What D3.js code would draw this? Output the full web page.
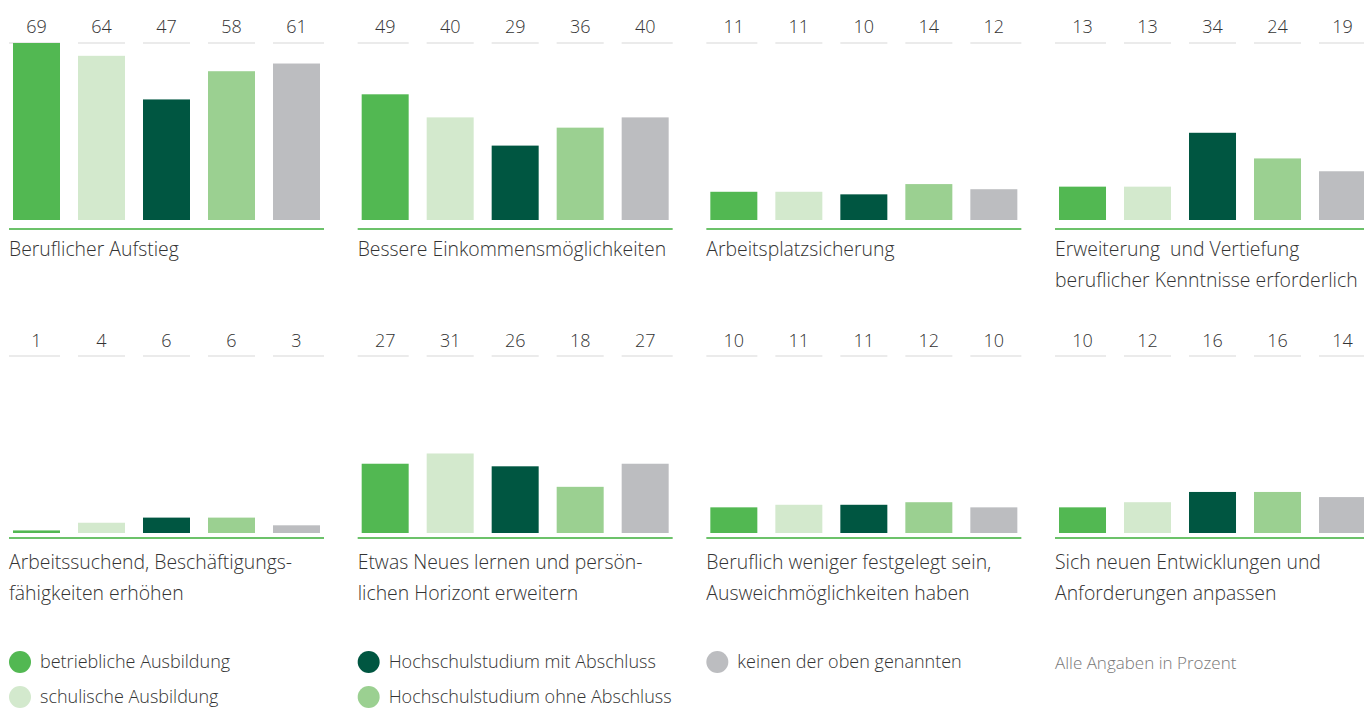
<!DOCTYPE html>
<html><head><meta charset="utf-8">
<script src="https://cdn.jsdelivr.net/npm/d3@7/dist/d3.min.js"></script>
<style>
body{margin:0;background:#fff;}
svg text{font-family:"Open Sans",sans-serif;font-weight:300;fill:#333;}
</style></head>
<body>
<svg id="c" width="1364" height="708"></svg>
<script>
const groups = ["betriebliche Ausbildung","schulische Ausbildung","Hochschulstudium mit Abschluss","Hochschulstudium ohne Abschluss","keinen der oben genannten"];
const colors = ["#52b852","#d3e9cd","#005641","#9bd091","#bcbdc0"];
const titles = [
  ["Beruflicher Aufstieg"],
  ["Bessere Einkommensmöglichkeiten"],
  ["Arbeitsplatzsicherung"],
  ["Erweiterung  und Vertiefung","beruflicher Kenntnisse erforderlich"],
  ["Arbeitssuchend, Beschäftigungs-","fähigkeiten erhöhen"],
  ["Etwas Neues lernen und persön-","lichen Horizont erweitern"],
  ["Beruflich weniger festgelegt sein,","Ausweichmöglichkeiten haben"],
  ["Sich neuen Entwicklungen und","Anforderungen anpassen"]
];
const v1 = [69,64,47,58,61];
const v2 = [49,40,29,36,40];
const v3 = [11,11,10,14,12];
const v4 = [13,13,34,24,19];
const v5 = [1,4,6,6,3];
const v6 = [27,31,26,18,27];
const v7 = [10,11,11,12,10];
const v8 = [10,12,16,16,14];
const values = [v1,v2,v3,v4,v5,v6,v7,v8];
const note = "Alle Angaben in Prozent";

const svg = d3.select("#c");
const panelW = 315, colStep = 348.67, left0 = 9;
const rows = [
  {valBase:33, line:43, base:220, axis:229, label:256},
  {valBase:347, line:356, base:533, axis:538, label:569}
];
const x = d3.scaleBand().domain(d3.range(5)).range([4,311]).paddingInner(18/65).paddingOuter(0);
const pxPerUnit = 177/69;

values.forEach((vals,i)=>{
  const r = rows[Math.floor(i/4)];
  const c = i%4;
  const g = svg.append("g").attr("transform",`translate(${left0+c*colStep},0)`);
  const y = d3.scaleLinear().domain([0,100]).range([r.base, r.base-100*pxPerUnit]);
  g.selectAll("line.v").data(vals).join("line")
    .attr("x1",(d,j)=> j===0?0:x(j))
    .attr("x2",(d,j)=> j===4?panelW:x(j)+x.bandwidth())
    .attr("y1",r.line).attr("y2",r.line)
    .attr("stroke","#ebebeb").attr("stroke-width",2);
  g.selectAll("text.v").data(vals).join("text")
    .attr("x",(d,j)=>x(j)+x.bandwidth()/2).attr("y",r.valBase)
    .attr("text-anchor","middle").style("font-size","18px").text(d=>d);
  g.selectAll("rect").data(vals).join("rect")
    .attr("x",(d,j)=>x(j)).attr("width",x.bandwidth())
    .attr("y",d=>y(d)).attr("height",d=>y(0)-y(d))
    .attr("fill",(d,j)=>colors[j]);
  g.append("line").attr("x1",0).attr("x2",panelW).attr("y1",r.axis).attr("y2",r.axis)
    .attr("stroke","#6cc26a").attr("stroke-width",2);
  const t = g.append("text").attr("y",r.label).style("font-size","19.4px").style("white-space","pre");
  titles[i].forEach((s,k)=>t.append("tspan").attr("x",0).attr("dy",k?31:0).text(s));
});

const legPos = [[0,0],[0,1],[1,0],[1,1],[2,0]];
groups.forEach((gname,i)=>{
  const [c,rr] = legPos[i];
  const lx = left0+c*colStep, ly = 662+rr*35;
  svg.append("circle").attr("cx",lx+11).attr("cy",ly).attr("r",11).attr("fill",colors[i]);
  svg.append("text").attr("x",lx+31).attr("y",ly+6).style("font-size","18px").text(gname);
});
svg.append("text").attr("x",left0+3*colStep).attr("y",669).style("font-size","17px").style("fill","#777").text(note);
</script>
</body></html>
